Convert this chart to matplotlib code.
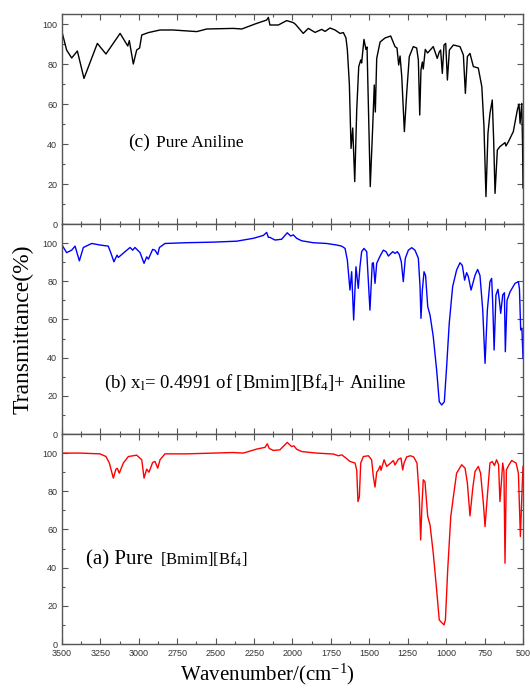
import matplotlib
matplotlib.use("Agg")
import matplotlib.pyplot as plt
from matplotlib.ticker import MultipleLocator

plt.rcParams['font.family'] = ['Liberation Serif', 'DejaVu Serif']
plt.rcParams['mathtext.fontset'] = 'custom'
plt.rcParams['mathtext.rm'] = 'Liberation Serif'
plt.rcParams['mathtext.it'] = 'Liberation Serif:italic'

# (c) pure aniline
aniline_wn = [3500, 3470, 3437, 3400, 3357, 3270, 3214, 3122, 3072, 3062, 3036, 3014, 2995, 2981,
              2938, 2862, 2776, 2623, 2558, 2385, 2330, 2244, 2168, 2157, 2147, 2092, 2038, 1995,
              1980, 1930, 1897, 1853, 1810, 1788, 1756, 1723, 1691, 1669, 1652, 1643, 1630, 1619,
              1608, 1595, 1582, 1569, 1556, 1550, 1535, 1522, 1515, 1494, 1478, 1468, 1461, 1452,
              1430, 1398, 1361, 1333, 1320, 1309, 1300, 1289, 1272, 1257, 1240, 1214, 1192, 1181,
              1172, 1164, 1155, 1149, 1136, 1121, 1084, 1058, 1045, 1036, 1025, 1014, 1003, 992,
              979, 953, 910, 888, 875, 862, 845, 823, 791, 768, 754, 741, 728, 715, 700, 691, 682,
              667, 650, 617, 611, 596, 563, 537, 526, 519, 508, 503, 500]
aniline_t = [96, 87, 83, 86.5, 72.8, 90.3, 85, 95.3, 89, 91.7, 80, 87, 88, 94.5,
             95.7, 97, 97, 96.2, 97.5, 97.8, 97.5, 100, 102, 103.3, 99.5, 99.5, 101.7, 100.7,
             99.8, 95.3, 97.8, 95.8, 97.3, 96.3, 98, 97, 95.3, 95.7, 93, 87, 70, 37.8,
             48, 21.2, 57, 78.7, 82, 80.5, 92.3, 87.3, 88.5, 18.7, 48.7, 69.5, 56, 82.8,
             91, 93, 94, 88.7, 88, 79.5, 84, 73.7, 46.2, 65.3, 83.7, 88.7, 88, 82,
             54.5, 77, 81, 77.5, 87.3, 85.5, 88.7, 82.8, 86, 87, 75.3, 89.5, 90.3, 72,
             87, 89.5, 88.7, 84.5, 65.3, 83.7, 85.3, 78.7, 78, 68.7, 48.7, 13.7, 45.3, 55.3, 62, 42, 15.3,
             37, 38.7, 40.7, 39, 41, 46.2, 57, 60, 50.3, 60.3, 40, 18]

# (b) x1 = 0.4991 mixture, middle panel
mix_wn = [3500, 3470, 3437, 3415, 3387, 3361, 3307, 3253, 3199, 3181, 3162, 3142, 3133, 3090, 3057,
          3040, 3025, 2992, 2966, 2949, 2938, 2910, 2895, 2877, 2866, 2830, 2688, 2515, 2363, 2255,
          2190, 2168, 2157, 2147, 2114, 2071, 2034, 2012, 1995, 1973, 1940, 1865, 1778, 1713, 1680,
          1658, 1643, 1626, 1615, 1602, 1587, 1572, 1561, 1550, 1535, 1517, 1496, 1481, 1474, 1463,
          1452, 1430, 1409, 1391, 1376, 1348, 1333, 1318, 1305, 1292, 1279, 1266, 1246, 1224, 1203,
          1181, 1170, 1164, 1155, 1144, 1134, 1120, 1105, 1084, 1062, 1045, 1029, 1012, 997, 980,
          958, 932, 910, 895, 880, 867, 856, 838, 812, 795, 780, 762, 747, 732, 715, 704, 697, 688,
          676, 663, 654, 645, 632, 621, 615, 604, 584, 552, 530, 523, 515, 507, 500]
mix_t = [99, 95, 96.3, 98.4, 90.7, 97.7, 99.8, 99, 98.4, 94.6, 90.2, 93.7, 92.5, 95.5, 97.7,
         96.3, 97.7, 95, 89.4, 92.8, 91.6, 96.7, 96.3, 94, 97.7, 99.8, 100.2, 100.5, 101, 102.5,
         104, 105.6, 103, 103, 101.6, 102, 105.4, 103.7, 104.3, 102.5, 101.2, 100.2, 99.8, 99, 98.4,
         97.2, 91, 75.4, 85, 59.7, 87.6, 76.3, 87.6, 95.5, 97.2, 95.5, 64.9, 89.4, 89.7, 78.9,
         89.4, 93.2, 96.3, 95.5, 93.2, 95.5, 94.6, 95.5, 94, 90.2, 79.8, 92, 96.3, 97.6, 96.3,
         92, 77.1, 60.6, 75.4, 85, 83, 66.7, 62.3, 51, 33.5, 16.9, 15.2, 16.9, 35.2, 58,
         77.1, 85.9, 89.7, 88.3, 80.6, 84.5, 82.5, 75.4, 83.2, 86.2, 83, 64.9, 37, 64.9, 79.8, 81.5, 68.4, 44,
         72.8, 75.8, 70, 63.2, 72.8, 74, 43.1, 70, 74.5, 78.9, 79.8, 76, 54.5, 55.4, 39.6]

# (a) pure [Bmim][BF4], bottom panel
il_wn = [3500, 3383, 3253, 3214, 3192, 3166, 3149, 3140, 3127, 3101, 3068, 3014, 2981, 2966, 2949,
         2934, 2910, 2895, 2877, 2862, 2830, 2688, 2515, 2385, 2320, 2233, 2179, 2164, 2151, 2125,
         2082, 2034, 2006, 1991, 1973, 1940, 1843, 1734, 1702, 1680, 1652, 1626, 1593, 1582, 1574,
         1565, 1556, 1539, 1506, 1485, 1474, 1463, 1452, 1441, 1430, 1424, 1404, 1387, 1361, 1344,
         1333, 1311, 1294, 1283, 1274, 1257, 1233, 1212, 1190, 1175, 1166, 1157, 1149, 1138, 1120,
         1105, 1084, 1062, 1045, 1029, 1014, 1005, 990, 970, 953, 932, 899, 877, 862, 845, 827,
         812, 791, 776, 758, 747, 734, 715, 700, 686, 672, 659, 650, 641, 632, 624, 617, 608, 595,
         574, 545, 530, 517, 506, 500]
il_t = [100, 100, 99.6, 98.2, 94.8, 86.9, 91.6, 92, 89.5, 94.8, 98.2, 98.9, 96.5, 86.9, 91.6,
        90, 95.1, 95.6, 92.1, 96.5, 99.6, 99.6, 100, 100.3, 100, 102.1, 103, 104.9, 102.4, 101.4,
        101.7, 105.6, 103.4, 103.8, 102, 100.8, 100, 99.5, 98.6, 99.1, 97.4, 95.6, 94.8, 91, 74.6,
        77, 94.8, 98.2, 98.6, 96.5, 87.7, 82.2, 90, 91.2, 93.3, 91, 96.5, 93, 94.8, 96.1,
        93.8, 96.8, 97.4, 91.2, 94.8, 98, 98.6, 98, 94.8, 77.2, 54.5, 73.8, 86, 85, 66.8,
        62.4, 47.6, 28.3, 12.6, 11.2, 10, 12.6, 38.8, 66.8, 77.2, 89.5, 93.9, 92.1, 84.3, 67.1, 81.6,
        90.4, 93, 89.5, 73.8, 61.5, 75.5, 94.8, 95.6, 93.5, 96.5, 93.9, 74.6, 84.3, 94.8, 90.4, 42.3, 91.2, 93.3,
        96.1, 94.8, 89.5, 56.3, 81, 93]

W, H = 530, 688
fig = plt.figure(figsize=(W / 100, H / 100), dpi=100)

left, width = 62 / W, 461 / W
panels = [
    (14, 224, 105, aniline_wn, aniline_t, 'black'),
    (224, 434, 110, mix_wn, mix_t, '#0000ff'),
    (434, 644, 110, il_wn, il_t, '#ff0000'),
]
axes = []
for top, bot, ymax, wn, t, col in panels:
    ax = fig.add_axes([left, (H - bot) / H, width, (bot - top) / H])
    ax.plot(wn, t, color=col, lw=1.0)
    ax.set_xlim(3500, 500)
    ax.set_ylim(0, ymax)
    ax.xaxis.set_major_locator(MultipleLocator(250))
    ax.xaxis.set_minor_locator(MultipleLocator(125))
    ax.yaxis.set_major_locator(MultipleLocator(20))
    ax.yaxis.set_minor_locator(MultipleLocator(10))
    ax.tick_params(which='both', direction='in', top=True, right=True, colors='#555555',
                   labelcolor='#333333', labelsize=6.5, width=0.8)
    ax.tick_params(which='major', length=4)
    ax.tick_params(which='minor', length=2)
    for lab in ax.get_yticklabels() + ax.get_xticklabels():
        lab.set_family('Liberation Sans')
    for s in ax.spines.values():
        s.set_color('#555555')
        s.set_linewidth(1.0)
    axes.append(ax)

for ax in axes[:2]:
    ax.tick_params(labelbottom=False)

ax_c, ax_b, ax_a = axes
ax_c.text(0.143, 0.368, '(c)', transform=ax_c.transAxes, fontsize=14, va='baseline')
ax_c.text(0.204, 0.368, 'Pure Aniline', transform=ax_c.transAxes, fontsize=12.5, va='baseline')

ax_b.text(0.091, 0.219, r'(b) x$_\mathrm{l}$= 0.4991 of [Bmim][Bf$_\mathrm{4}$]+ Aniline',
          transform=ax_b.transAxes, fontsize=13.5, va='baseline')

ax_a.text(0.052, 0.38, '(a) Pure', transform=ax_a.transAxes, fontsize=15, va='baseline')
ax_a.text(0.212, 0.38, r'[Bmim][Bf$_\mathrm{4}$]', transform=ax_a.transAxes, fontsize=12,
          va='baseline')

fig.text(0.043, (H - 329) / H, 'Transmittance(%)', rotation=90, fontsize=17,
         ha='center', va='center')
fig.text(267 / W, (H - 674) / H, r'Wavenumber/(cm$^\mathrm{-1}$)', fontsize=15,
         ha='center', va='center')

fig.savefig('out.png', dpi=100)
